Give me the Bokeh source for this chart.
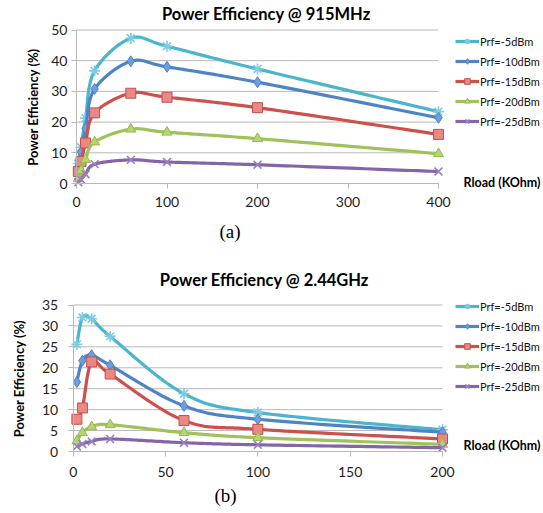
import numpy as np
from bokeh.plotting import figure
from bokeh.models import Range1d, Label, Legend, LegendItem, FixedTicker, LinearAxis
from bokeh.layouts import column
from bokeh.embed import file_html
from bokeh.resources import INLINE

# ---------------- data ----------------
series_names = ["Prf=-5dBm", "Prf=-10dBm", "Prf=-15dBm", "Prf=-20dBm", "Prf=-25dBm"]

title_a = "Power Efficiency @ 915MHz"
rload_a = [2, 5, 10, 20, 60, 100, 200, 400]
eff_a_m5 = [6.5, 11.8, 21.3, 36.7, 47.3, 44.7, 37.3, 23.4]
eff_a_m10 = [5.5, 10.2, 17.9, 30.8, 39.8, 38.0, 33.0, 21.4]
eff_a_m15 = [3.9, 7.2, 13.2, 23.0, 29.4, 28.1, 24.7, 16.0]
eff_a_m20 = [1.5, 4.2, 7.8, 13.5, 17.7, 16.7, 14.6, 9.7]
eff_a_m25 = [0.4, 1.3, 3.0, 6.3, 7.7, 7.0, 6.1, 3.9]

title_b = "Power Efficiency @ 2.44GHz"
rload_b = [2, 5, 10, 20, 60, 100, 200]
eff_b_m5 = [25.6, 32.0, 31.7, 27.5, 13.8, 9.3, 5.2]
eff_b_m10 = [16.6, 21.7, 23.0, 20.6, 10.9, 7.7, 4.6]
eff_b_m15 = [7.7, 10.4, 21.4, 18.5, 7.4, 5.3, 3.0]
eff_b_m20 = [2.5, 4.5, 5.9, 6.4, 4.5, 3.3, 1.7]
eff_b_m25 = [1.2, 1.8, 2.4, 3.0, 2.1, 1.6, 0.9]

yticks_a = [0, 10, 20, 30, 40, 50]
xticks_a = [0, 100, 200, 300, 400]
yticks_b = [0, 5, 10, 15, 20, 25, 30, 35]
xticks_b = [0, 50, 100, 150, 200]

# ---------------- styling ----------------
FONT = "Lato"
line_colors = ["#4bb5cd", "#4f84c4", "#cc504c", "#9fc25a", "#8466a8"]
markers = ["asterisk", "diamond", "square", "triangle", "x"]
m_fill = ["#8dd3e4", "#6b9de0", "#ec8884", "#b5d66e", "#a58ccb"]
m_line = ["#7fcbe0", "#4f84c4", "#c0504d", "#95b955", "#9a80c2"]
m_size = [11, 11, 10, 10, 11]
GRID = "#b8b8b8"
W = 543


def smooth(xs, ys, n=30):
    """Excel-style smoothed line (cubic Bezier through the points)."""
    P = np.column_stack([xs, ys]).astype(float)
    out = [P[0]]
    t = np.linspace(0, 1, n)[1:, None]
    for i in range(len(P) - 1):
        p0 = P[i - 1] if i > 0 else P[i]
        p1, p2 = P[i], P[i + 1]
        p3 = P[i + 2] if i + 2 < len(P) else P[i + 1]
        c1 = p1 + (p2 - p0) / 6.0
        c2 = p2 - (p3 - p1) / 6.0
        b = ((1 - t) ** 3) * p1 + 3 * ((1 - t) ** 2) * t * c1 + 3 * (1 - t) * t ** 2 * c2 + t ** 3 * p2
        out.extend(b)
    out = np.array(out)
    return out[:, 0], out[:, 1]


def make_chart(title, xs, series, xmax, ymax, xticks, yticks, caption, H,
               px0, px1, py_top, py_zero, ylab_standoff, ytick_standoff, xtick_standoff,
               title_pos, rload_pos, cap_pos, legend_pos):
    # pixel geometry of the plot area inside the figure (from top-left)
    kx = (px1 - px0) / xmax
    ky = (py_zero - py_top) / ymax
    xr = Range1d(-px0 / kx, xmax + (W - px1) / kx)
    yr = Range1d(-(H - py_zero) / ky, ymax + py_top / ky)
    p = figure(width=W, height=H, x_range=xr, y_range=yr,
               x_axis_location=None, y_axis_location=None,
               min_border=0, min_border_left=0, min_border_right=0,
               min_border_top=0, min_border_bottom=0,
               toolbar_location=None, output_backend="svg")
    p.outline_line_color = None
    p.xgrid.visible = False
    p.ygrid.visible = False
    p.background_fill_color = "white"
    p.border_fill_color = "white"

    # horizontal gridlines at the y ticks
    p.segment(x0=[0] * len(yticks), x1=[xmax] * len(yticks), y0=yticks, y1=yticks,
              line_color=GRID, line_width=1)

    xax = LinearAxis(ticker=FixedTicker(ticks=xticks), fixed_location=0, bounds=(0, xmax))
    yax = LinearAxis(ticker=FixedTicker(ticks=yticks), fixed_location=0, bounds=(0, ymax))
    p.add_layout(xax, "below")
    p.add_layout(yax, "left")
    for ax in (xax, yax):
        ax.axis_line_color = GRID
        ax.major_tick_line_color = GRID
        ax.major_tick_out = 5
        ax.major_tick_in = 0
        ax.minor_tick_line_color = None
        ax.major_label_text_font = FONT
        ax.major_label_text_font_size = "14px"
        ax.major_label_text_color = "#1e1e1e"
    xax.major_label_standoff = xtick_standoff
    yax.major_label_standoff = ytick_standoff
    yax.axis_label = "Power Efficiency (%)"
    yax.axis_label_text_font = FONT
    yax.axis_label_text_font_style = "bold"
    yax.axis_label_text_font_size = "13px"
    yax.axis_label_text_color = "#000000"
    yax.axis_label_standoff = ylab_standoff

    items = []
    for k, ys in enumerate(series):
        sx, sy = smooth(xs, ys)
        r1 = p.line(sx, sy, line_color=line_colors[k], line_width=3.2, line_join="round")
        r2 = p.scatter(xs, ys, marker=markers[k], size=m_size[k], fill_color=m_fill[k],
                       line_color=m_line[k], line_width=1.6 if markers[k] in ("asterisk", "x") else 1)
        items.append(LegendItem(label=series_names[k], renderers=[r1, r2]))

    leg = Legend(items=items, location=legend_pos, orientation="vertical",
                 glyph_width=24, glyph_height=14, label_height=14, label_standoff=1,
                 spacing=6, padding=0, margin=0,
                 label_text_font=FONT, label_text_font_size="11px", label_text_color="#111111",
                 border_line_alpha=0, background_fill_alpha=0)
    p.add_layout(leg, "center")

    p.add_layout(Label(x=title_pos[0], y=title_pos[1], x_units="screen", y_units="screen",
                       text=title, text_font=FONT, text_font_style="bold", text_font_size="16.5px",
                       text_align="center", text_baseline="middle", text_color="#000000"))
    p.add_layout(Label(x=rload_pos[0], y=rload_pos[1], x_units="screen", y_units="screen",
                       text="Rload (KOhm)", text_font=FONT, text_font_style="bold", text_font_size="12.5px",
                       text_align="right", text_baseline="middle", text_color="#000000"))
    p.add_layout(Label(x=cap_pos[0], y=cap_pos[1], x_units="screen", y_units="screen",
                       text=caption, text_font="Liberation Serif", text_font_size="19px",
                       text_align="center", text_baseline="middle", text_color="#000000"))
    return p


# figure 1 occupies page y 0..258, figure 2 page y 258..513
p1 = make_chart(title_a, rload_a, [eff_a_m5, eff_a_m10, eff_a_m15, eff_a_m20, eff_a_m25],
                400, 50, xticks_a, yticks_a, "(a)", H=258,
                px0=76, px1=438, py_top=29.5, py_zero=183,
                ylab_standoff=7, ytick_standoff=4, xtick_standoff=8,
                title_pos=(266, 244.5), rload_pos=(540, 76), cap_pos=(229.5, 27),
                legend_pos=(455, 130))

p2 = make_chart(title_b, rload_b, [eff_b_m5, eff_b_m10, eff_b_m15, eff_b_m20, eff_b_m25],
                200, 35, xticks_b, yticks_b, "(b)", H=255,
                px0=72.7, px1=442, py_top=46.5, py_zero=193,
                ylab_standoff=12, ytick_standoff=10, xtick_standoff=10,
                title_pos=(264, 234), rload_pos=(540, 68), cap_pos=(225, 18),
                legend_pos=(455, 120))

layout = column(p1, p2, spacing=0)
open("out.html", "w").write(file_html(layout, INLINE))
